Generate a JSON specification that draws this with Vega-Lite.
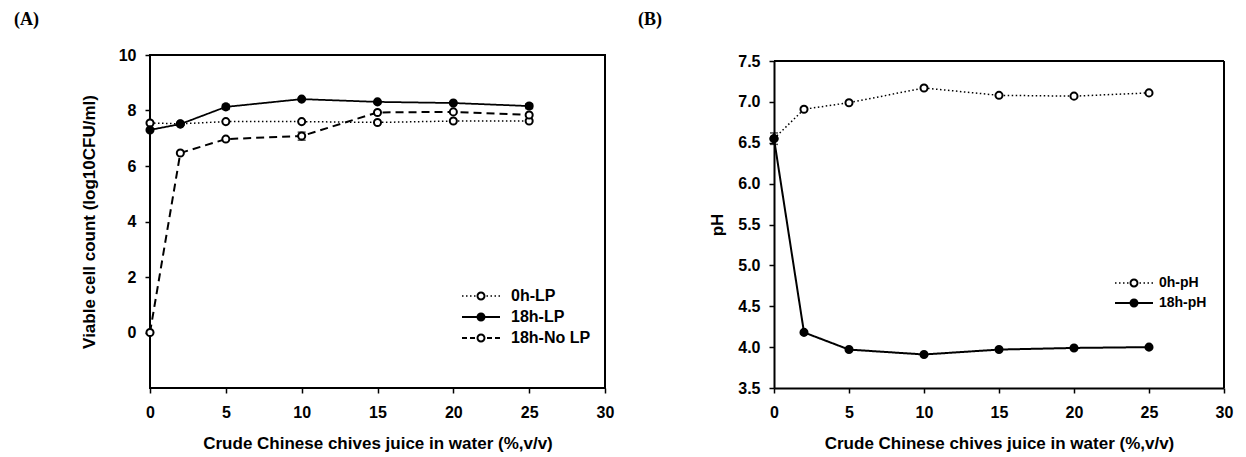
{
  "$schema": "https://vega.github.io/schema/vega-lite/v6.json",
  "background": "white",
  "padding": {"left": 13, "top": 10, "right": 5, "bottom": 5},
  "config": {
    "font": "Liberation Sans",
    "view": {"stroke": "black", "strokeWidth": 2},
    "axis": {
      "labelFont": "Liberation Sans", "labelFontSize": 16, "labelFontWeight": "bold", "labelColor": "black",
      "titleFont": "Liberation Sans", "titleFontSize": 17, "titleFontWeight": "bold", "titleColor": "black",
      "domain": false, "domainColor": "black", "domainWidth": 2, "grid": false,
      "tickColor": "black", "tickWidth": 1.5, "tickSize": 5,
      "labelFlush": false, "labelOverlap": false
    },
    "axisX": {"labelPadding": 11, "titlePadding": 15},
    "axisY": {"labelPadding": 9},
    "title": {"font": "Liberation Serif", "fontSize": 18, "fontWeight": "bold", "anchor": "start", "frame": "group", "color": "black"},
    "legend": {
      "labelFont": "Liberation Sans", "labelFontWeight": "bold", "labelColor": "black", "padding": 0,
      "symbolSize": 100, "symbolStrokeWidth": 0, "symbolFillColor": "black", "symbolStrokeColor": "transparent", "symbolOpacity": 1
    },
    "concat": {"spacing": 23}
  },
  "resolve": {
    "scale": {"opacity": "independent", "strokeDash": "independent", "strokeWidth": "independent"},
    "legend": {"opacity": "independent"}
  },
  "datasets": {
    "viable": [
      {"series": "0h-LP", "x": 0, "y": 7.55},
      {"series": "0h-LP", "x": 2, "y": 7.52},
      {"series": "0h-LP", "x": 5, "y": 7.6},
      {"series": "0h-LP", "x": 10, "y": 7.6},
      {"series": "0h-LP", "x": 15, "y": 7.57},
      {"series": "0h-LP", "x": 20, "y": 7.62},
      {"series": "0h-LP", "x": 25, "y": 7.62},
      {"series": "18h-LP", "x": 0, "y": 7.3},
      {"series": "18h-LP", "x": 2, "y": 7.51},
      {"series": "18h-LP", "x": 5, "y": 8.13},
      {"series": "18h-LP", "x": 10, "y": 8.41},
      {"series": "18h-LP", "x": 15, "y": 8.31},
      {"series": "18h-LP", "x": 20, "y": 8.27},
      {"series": "18h-LP", "x": 25, "y": 8.16},
      {"series": "18h-No LP", "x": 0, "y": 0},
      {"series": "18h-No LP", "x": 2, "y": 6.47},
      {"series": "18h-No LP", "x": 5, "y": 6.97},
      {"series": "18h-No LP", "x": 10, "y": 7.08},
      {"series": "18h-No LP", "x": 15, "y": 7.93},
      {"series": "18h-No LP", "x": 20, "y": 7.95},
      {"series": "18h-No LP", "x": 25, "y": 7.84}
    ],
    "viable_err": [
      {"series": "18h-LP", "x": 5, "lo": 8.04, "hi": 8.22},
      {"series": "18h-No LP", "x": 10, "lo": 6.93, "hi": 7.22},
      {"series": "18h-LP", "x": 25, "lo": 8.07, "hi": 8.24}
    ],
    "ph": [
      {"series": "0h-pH", "x": 0, "y": 6.55},
      {"series": "0h-pH", "x": 2, "y": 6.91},
      {"series": "0h-pH", "x": 5, "y": 6.99},
      {"series": "0h-pH", "x": 10, "y": 7.17},
      {"series": "0h-pH", "x": 15, "y": 7.08},
      {"series": "0h-pH", "x": 20, "y": 7.07},
      {"series": "0h-pH", "x": 25, "y": 7.11},
      {"series": "18h-pH", "x": 0, "y": 6.55},
      {"series": "18h-pH", "x": 2, "y": 4.18},
      {"series": "18h-pH", "x": 5, "y": 3.97},
      {"series": "18h-pH", "x": 10, "y": 3.91},
      {"series": "18h-pH", "x": 15, "y": 3.97},
      {"series": "18h-pH", "x": 20, "y": 3.99},
      {"series": "18h-pH", "x": 25, "y": 4.0}
    ],
    "ph_err": [
      {"series": "18h-pH", "x": 0, "lo": 6.48, "hi": 6.62}
    ]
  },
  "hconcat": [
    {
      "title": {"text": "(A)", "dx": -136, "offset": 18},
      "width": 455,
      "height": 333,
      "data": {"name": "viable"},
      "layer": [
        {
          "mark": {"type": "line", "color": "black"},
          "encoding": {
            "x": {"field": "x", "type": "quantitative", "scale": {"domain": [0, 30], "nice": false, "zero": false}, "axis": {"values": [0, 5, 10, 15, 20, 25, 30], "title": "Crude Chinese chives juice in water (%,v/v)"}},
            "y": {"field": "y", "type": "quantitative", "scale": {"domain": [-2, 10], "nice": false}, "axis": {"values": [0, 2, 4, 6, 8, 10], "title": "Viable cell count (log10CFU/ml)", "titlePadding": 20}},
            "strokeDash": {"field": "series", "scale": {"range": [[1.5, 2.5], [1, 0], [8, 5]]}, "legend": null},
            "strokeWidth": {"field": "series", "scale": {"range": [1.5, 2, 2]}, "legend": null}
          }
        },
        {
          "data": {"name": "viable_err"},
          "mark": {"type": "errorbar", "color": "black", "thickness": 1.5, "ticks": {"size": 8, "thickness": 1.5}},
          "encoding": {
            "x": {"field": "x", "type": "quantitative", "scale": {"domain": [0, 30], "nice": false, "zero": false}, "axis": {"values": [0, 5, 10, 15, 20, 25, 30], "title": "Crude Chinese chives juice in water (%,v/v)"}},
            "y": {"field": "lo", "type": "quantitative", "scale": {"domain": [-2, 10], "nice": false}, "axis": {"values": [0, 2, 4, 6, 8, 10], "title": "Viable cell count (log10CFU/ml)", "titlePadding": 20}},
            "y2": {"field": "hi"}
          }
        },
        {
          "mark": {"type": "point", "shape": "circle", "filled": true, "size": 50, "stroke": "black", "strokeWidth": 2},
          "encoding": {
            "x": {"field": "x", "type": "quantitative", "scale": {"domain": [0, 30], "nice": false, "zero": false}, "axis": {"values": [0, 5, 10, 15, 20, 25, 30], "title": "Crude Chinese chives juice in water (%,v/v)"}},
            "y": {"field": "y", "type": "quantitative", "scale": {"domain": [-2, 10], "nice": false}, "axis": {"values": [0, 2, 4, 6, 8, 10], "title": "Viable cell count (log10CFU/ml)", "titlePadding": 20}},
            "fill": {"condition": {"test": "datum.series !== '18h-LP'", "value": "white"}, "value": "black"},
            "opacity": {
              "field": "series",
              "type": "nominal",
              "scale": {"domain": ["0h-LP", "18h-LP", "18h-No LP"], "range": [1, 1, 1]},
              "legend": {
                "title": null,
                "orient": "none",
                "legendX": 323,
                "legendY": 233,
                "labelFontSize": 16,
                "labelOffset": 22,
                "rowPadding": 5,
                "symbolType": {"expr": "datum.value === '18h-LP' ? 'M-3.8,-0.2H3.8V0.2H-3.8Z M0.9,0A0.9,0.9 0 1,1 -0.9,0A0.9,0.9 0 1,1 0.9,0Z' : datum.value === '0h-LP' ? 'M-3.8,-0.16H-3.5V0.16H-3.8Z M-3,-0.16H-2.7V0.16H-3Z M-2.2,-0.16H-1.9V0.16H-2.2Z M-1.4,-0.16H-1.1V0.16H-1.4Z M1.1,-0.16H1.4V0.16H1.1Z M1.9,-0.16H2.2V0.16H1.9Z M2.7,-0.16H3V0.16H2.7Z M3.5,-0.16H3.8V0.16H3.5Z M0.9,0A0.9,0.9 0 1,1 -0.9,0A0.9,0.9 0 1,1 0.9,0Z M0.5,0A0.5,0.5 0 1,0 -0.5,0A0.5,0.5 0 1,0 0.5,0Z' : 'M-3.8,-0.2H-2.8V0.2H-3.8Z M-2.2,-0.2H-1.2V0.2H-2.2Z M1.2,-0.2H2.2V0.2H1.2Z M2.8,-0.2H3.8V0.2H2.8Z M0.9,0A0.9,0.9 0 1,1 -0.9,0A0.9,0.9 0 1,1 0.9,0Z M0.5,0A0.5,0.5 0 1,0 -0.5,0A0.5,0.5 0 1,0 0.5,0Z'"}
              }
            }
          }
        }
      ]
    },
    {
      "title": {"text": "(B)", "dx": -136, "offset": 24},
      "width": 450,
      "height": 333,
      "view": {"stroke": null},
      "data": {"name": "ph"},
      "layer": [
        {
          "mark": {"type": "rule", "color": "black", "strokeWidth": 2},
          "encoding": {
            "x": {"datum": 0, "type": "quantitative", "scale": {"domain": [0, 30], "nice": false, "zero": false}},
            "x2": {"datum": 30},
            "y": {"datum": 7.5, "type": "quantitative", "scale": {"domain": [3.5, 7.5], "range": [333, 6], "nice": false, "zero": false}}
          }
        },
        {
          "mark": {"type": "rule", "color": "black", "strokeWidth": 2},
          "encoding": {
            "x": {"datum": 30, "type": "quantitative", "scale": {"domain": [0, 30], "nice": false, "zero": false}},
            "y": {"datum": 3.5, "type": "quantitative", "scale": {"domain": [3.5, 7.5], "range": [333, 6], "nice": false, "zero": false}},
            "y2": {"datum": 7.5}
          }
        },
        {
          "mark": {"type": "line", "color": "black"},
          "encoding": {
            "x": {"field": "x", "type": "quantitative", "scale": {"domain": [0, 30], "nice": false, "zero": false}, "axis": {"values": [0, 5, 10, 15, 20, 25, 30], "domain": true, "title": "Crude Chinese chives juice in water (%,v/v)"}},
            "y": {"field": "y", "type": "quantitative", "scale": {"domain": [3.5, 7.5], "range": [333, 6], "nice": false, "zero": false}, "axis": {"values": [3.5, 4, 4.5, 5, 5.5, 6, 6.5, 7, 7.5], "format": ".1f", "domain": true, "title": "pH", "titlePadding": 11}},
            "strokeDash": {"field": "series", "scale": {"range": [[1.5, 2.5], [1, 0]]}, "legend": null},
            "strokeWidth": {"field": "series", "scale": {"range": [1.5, 2]}, "legend": null}
          }
        },
        {
          "data": {"name": "ph_err"},
          "mark": {"type": "errorbar", "color": "black", "thickness": 1.5, "ticks": {"size": 8, "thickness": 1.5}},
          "encoding": {
            "x": {"field": "x", "type": "quantitative", "scale": {"domain": [0, 30], "nice": false, "zero": false}, "axis": {"values": [0, 5, 10, 15, 20, 25, 30], "domain": true, "title": "Crude Chinese chives juice in water (%,v/v)"}},
            "y": {"field": "lo", "type": "quantitative", "scale": {"domain": [3.5, 7.5], "range": [333, 6], "nice": false, "zero": false}, "axis": {"values": [3.5, 4, 4.5, 5, 5.5, 6, 6.5, 7, 7.5], "format": ".1f", "domain": true, "title": "pH", "titlePadding": 11}},
            "y2": {"field": "hi"}
          }
        },
        {
          "mark": {"type": "point", "shape": "circle", "filled": true, "size": 50, "stroke": "black", "strokeWidth": 2},
          "encoding": {
            "x": {"field": "x", "type": "quantitative", "scale": {"domain": [0, 30], "nice": false, "zero": false}, "axis": {"values": [0, 5, 10, 15, 20, 25, 30], "domain": true, "title": "Crude Chinese chives juice in water (%,v/v)"}},
            "y": {"field": "y", "type": "quantitative", "scale": {"domain": [3.5, 7.5], "range": [333, 6], "nice": false, "zero": false}, "axis": {"values": [3.5, 4, 4.5, 5, 5.5, 6, 6.5, 7, 7.5], "format": ".1f", "domain": true, "title": "pH", "titlePadding": 11}},
            "fill": {"condition": {"test": "datum.series !== '18h-pH'", "value": "white"}, "value": "black"},
            "opacity": {
              "field": "series",
              "type": "nominal",
              "scale": {"domain": ["0h-pH", "18h-pH"], "range": [1, 1]},
              "legend": {
                "title": null,
                "orient": "none",
                "legendX": 353,
                "legendY": 221,
                "labelFontSize": 14,
                "labelOffset": 18,
                "rowPadding": 6,
                "symbolType": {"expr": "datum.value === '18h-pH' ? 'M-3.8,-0.2H3.8V0.2H-3.8Z M0.9,0A0.9,0.9 0 1,1 -0.9,0A0.9,0.9 0 1,1 0.9,0Z' : 'M-3.8,-0.16H-3.5V0.16H-3.8Z M-3,-0.16H-2.7V0.16H-3Z M-2.2,-0.16H-1.9V0.16H-2.2Z M-1.4,-0.16H-1.1V0.16H-1.4Z M1.1,-0.16H1.4V0.16H1.1Z M1.9,-0.16H2.2V0.16H1.9Z M2.7,-0.16H3V0.16H2.7Z M3.5,-0.16H3.8V0.16H3.5Z M0.9,0A0.9,0.9 0 1,1 -0.9,0A0.9,0.9 0 1,1 0.9,0Z M0.5,0A0.5,0.5 0 1,0 -0.5,0A0.5,0.5 0 1,0 0.5,0Z'"}
              }
            }
          }
        }
      ]
    }
  ]
}
